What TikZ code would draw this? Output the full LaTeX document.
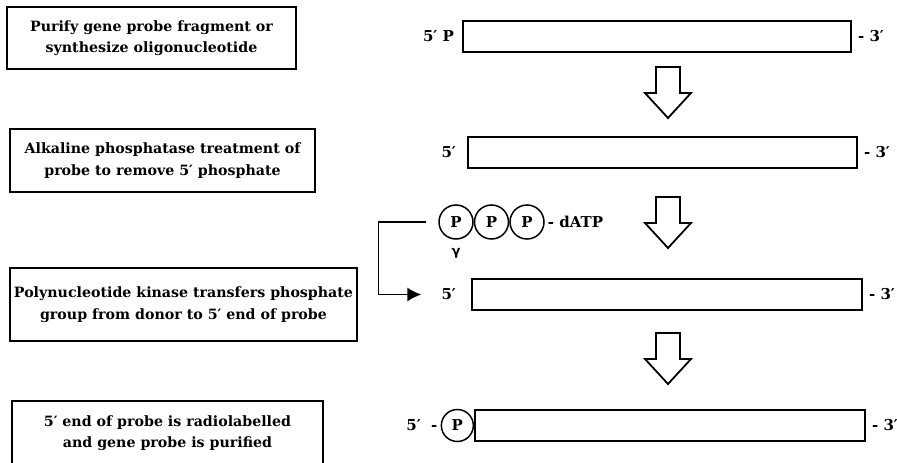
\documentclass[tikz,border=0pt]{standalone}
\usepackage{fontspec}
\setmainfont{DejaVu Serif}
\newfontfamily\greekfont{DejaVu Sans}
\usetikzlibrary{positioning,arrows.meta}
\begin{document}
\begin{tikzpicture}[x=1pt,y=-1pt,font=\fontsize{14.2}{21.5}\selectfont\bfseries]
  \tikzstyle{step box}=[draw,line width=1.8pt,align=center,inner sep=0]
  \tikzstyle{strand}=[draw,line width=1.8pt,inner sep=0,minimum width=390,minimum height=31]
  \tikzstyle{end label}=[inner sep=0,font=\fontsize{15}{17}\selectfont\bfseries]
  \tikzstyle{phosphate}=[circle,draw,line width=1.5pt,inner sep=0,minimum size=34,
      font=\fontsize{15}{17}\selectfont\bfseries]
  \useasboundingbox (0,0) rectangle (897,463);
  \clip (0,0) rectangle (897,463);

  % steps
  \node(b1)[step box,minimum width=289,minimum height=62] at (151.5,38)
      {Purify gene probe fragment or\\synthesize oligonucleotide};
  \node(b2)[step box,minimum width=305,minimum height=63] at (162.5,160.5)
      {Alkaline phosphatase treatment of\\probe to remove 5′ phosphate};
  \node(b3)[step box,minimum width=347,minimum height=73] at (183.5,304.5)
      {Polynucleotide kinase transfers phosphate\\group from donor to 5′ end of probe};
  \node(b4)[step box,minimum width=311,minimum height=64] at (167.5,433)
      {5′ end of probe is radiolabelled\\and gene probe is purified};

  % probe
  \node(s1)[strand,minimum width=388] at (657,36.5){};
  \node(f1)[end label,left=8pt of s1]{5′ P};
  \node(t1)[end label,right=6pt of s1]{- 3′};

  \node(s2)[strand,minimum width=389] at (662.5,152.5){};
  \node(f2)[end label,left=11pt of s2]{5′};
  \node(t2)[end label,right=6pt of s2]{- 3′};

  \node(s3)[strand] at (667,294.5){};
  \node(f3)[end label,left=15pt of s3]{5′};
  \node(t3)[end label,right=6pt of s3]{- 3′};

  \node(s4)[strand] at (670,425.5){};
  \node(p4)[phosphate,minimum size=32,left=0pt of s4]{P};
  \node(f4)[end label,left=3pt of p4]{5′\ \ -};
  \node(t4)[end label,right=6pt of s4]{- 3′};

  % donor
  \node(p1)[phosphate] at (456,222){P};
  \node(p2)[phosphate,right=0pt of p1]{P};
  \node(p3)[phosphate,right=0pt of p2]{P};
  \node(datp)[end label,right=3pt of p3]{- dATP};
  \node(gamma)[end label,below=8pt of p1,font=\greekfont\fontsize{13}{15}\selectfont\bfseries]{γ};

  \draw[line width=1.6pt,-{Latex[length=14pt,width=14pt]}]
      ([xshift=-12pt]p1.west) -| ([xshift=-63pt]f3.west) -- ([xshift=-20pt]f3.west);

  \foreach \y in {67,197,333}
    \draw[line width=1.8pt] (656,\y) -- (680,\y) -- (680,\y+26) -- (691,\y+26)
        -- (668,\y+51) -- (645,\y+26) -- (656,\y+26) -- cycle;
\end{tikzpicture}
\end{document}
